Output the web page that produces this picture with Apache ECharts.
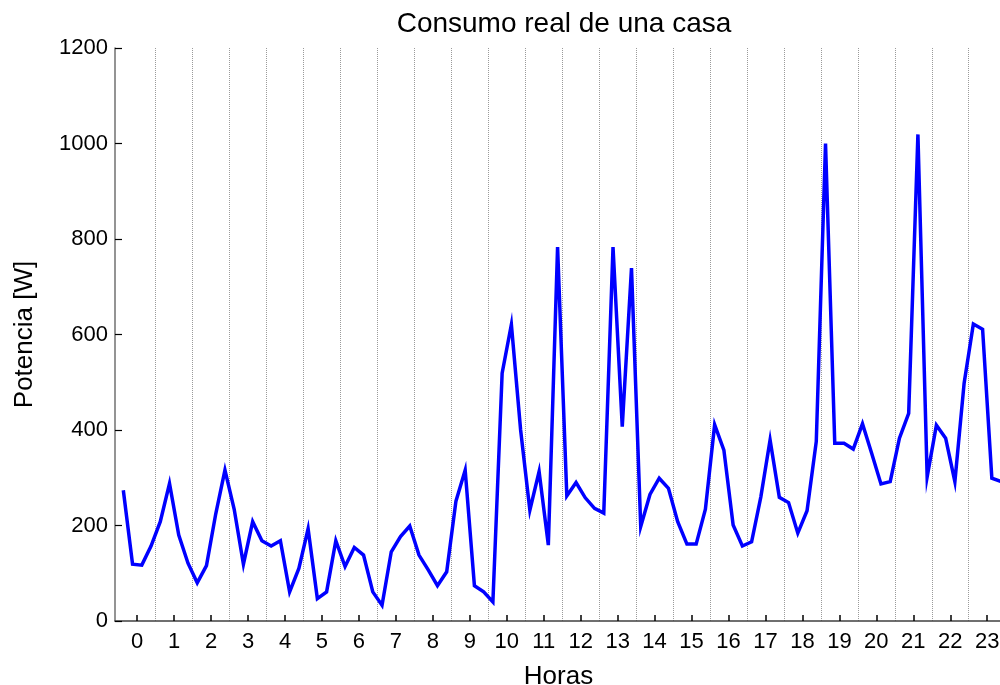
<!DOCTYPE html>
<html>
<head>
<meta charset="utf-8">
<script src="https://cdn.jsdelivr.net/npm/echarts@6/dist/echarts.min.js"></script>
<style>
  html, body { margin: 0; padding: 0; background: #fff; }
  #chart { width: 1000px; height: 685px; }
</style>
</head>
<body>
<div id="chart"></div>
<script>
// Power readings every 15 minutes (W), 4 per hour, hours 0..23
const power = [
  274, 119, 117, 157, 208, 288, 180, 121,
  80, 116, 224, 316, 234, 119, 208, 168,
  157, 168, 61, 110, 193, 47, 61, 168,
  114, 154, 138, 61, 33, 145, 177, 199,
  138, 107, 74, 103, 251, 316, 74, 61,
  40, 519, 621, 400, 232, 313, 159, 783,
  262, 290, 258, 236, 226, 783, 407, 739,
  198, 265, 299, 278, 208, 161, 161, 234,
  411, 358, 201, 157, 166, 260, 379, 259,
  248, 184, 231, 376, 1000, 372, 372, 360,
  413, 351, 287, 292, 383, 435, 1019, 302,
  410, 383, 292, 498, 622, 611, 299, 292
];
// Hour tick labels
const hourTicks = [0, 1, 2, 3, 4, 5, 6, 7, 8, 9, 10, 11, 12, 13, 14, 15, 16, 17, 18, 19, 20, 21, 22, 23];
// Hour boundaries (vertical dotted grid lines)
const hourBounds = [0.5, 1.5, 2.5, 3.5, 4.5, 5.5, 6.5, 7.5, 8.5, 9.5, 10.5, 11.5, 12.5, 13.5, 14.5, 15.5, 16.5, 17.5, 18.5, 19.5, 20.5, 21.5, 22.5];
// Y ticks
const yTicks = [0, 200, 400, 600, 800, 1000, 1200];

const titleText = 'Consumo real de una casa';
const xName = 'Horas';
const yName = 'Potencia [W]';

// sample time (hours) of each 15-min reading: centred in its quarter of the hour bin
const seriesData = power.map((v, i) => [i / 4 - 0.375, v]);

const FONT = 'Liberation Sans, Arial, sans-serif';
const chart = echarts.init(document.getElementById('chart'), null, { renderer: 'canvas' });
chart.setOption({
  animation: false,
  backgroundColor: '#ffffff',
  title: {
    text: titleText,
    left: 559, top: 5, textAlign: 'center',
    textStyle: { fontFamily: FONT, fontSize: 28, fontWeight: 'normal', color: '#000' }
  },
  grid: { left: 115, top: 48, width: 887, height: 573, containLabel: false, outerBoundsMode: 'none' },
  xAxis: [{
    type: 'value',
    min: -0.6, max: 23.4,
    name: xName, nameLocation: 'middle', nameGap: 43,
    nameTextStyle: { fontFamily: FONT, fontSize: 26, color: '#000' },
    axisLine: { show: true, onZero: false, lineStyle: { color: '#404040', width: 1.5 } },
    axisTick: { show: true, inside: true, length: 6, customValues: hourTicks, lineStyle: { color: '#000', width: 1.5 } },
    axisLabel: { customValues: hourTicks, fontFamily: FONT, fontSize: 22, color: '#000', margin: 10 },
    splitLine: { show: false }
  }, {
    type: 'value',
    min: -0.6, max: 23.4,
    position: 'bottom',
    axisLine: { show: false, onZero: false },
    axisTick: { show: false, customValues: hourBounds },
    axisLabel: { show: false, customValues: hourBounds },
    splitLine: { show: true, lineStyle: { color: '#9a9a9a', type: [1, 1], width: 1 } }
  }],
  yAxis: {
    type: 'value',
    min: 0, max: 1200, interval: 200,
    name: yName, nameLocation: 'middle', nameGap: 77, nameRotate: 90,
    nameTextStyle: { fontFamily: FONT, fontSize: 26, color: '#000' },
    axisLine: { show: true, onZero: false, lineStyle: { color: '#707070', width: 1.5 } },
    axisTick: { show: true, inside: true, length: 7, lineStyle: { color: '#000', width: 1.2 } },
    axisLabel: { fontFamily: FONT, fontSize: 22, color: '#000', margin: 7, formatter: v => String(v) },
    splitLine: { show: false }
  },
  series: [{
    type: 'line',
    xAxisIndex: 0,
    data: seriesData,
    showSymbol: false,
    symbol: 'none',
    clip: true,
    lineStyle: { color: '#0000ff', width: 3.5, join: 'miter' }
  }]
});
</script>
</body>
</html>
